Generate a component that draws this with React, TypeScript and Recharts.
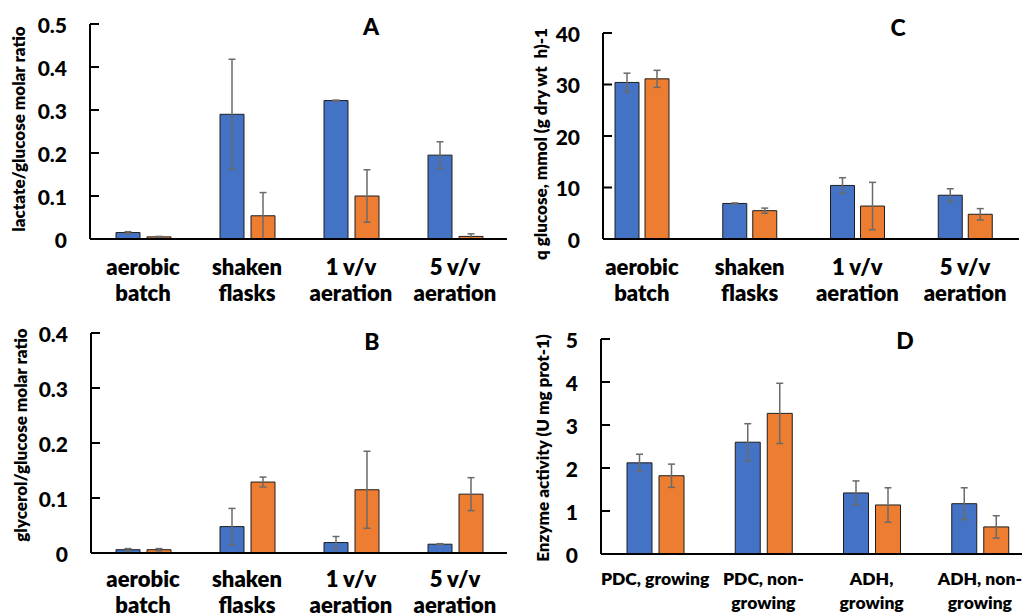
import React from 'react';
import { BarChart, Bar, XAxis, YAxis, ErrorBar, Label } from 'recharts';

const FONT = 'Lato, Carlito, Calibri, "Open Sans", sans-serif';
const BLUE = '#4472C4';
const ORANGE = '#ED7D31';

// category labels ("\n" = line break)
const conditionLabels = ['aerobic\nbatch', 'shaken\nflasks', '1 v/v\naeration', '5 v/v\naeration'];
const enzymeLabels = ['PDC, growing', 'PDC, non-\ngrowing', 'ADH,\ngrowing', 'ADH, non-\ngrowing'];

// A: lactate/glucose
const lactateBlue = [0.015, 0.29, 0.322, 0.195];
const lactateBlueErr = [0.002, 0.128, 0.001, 0.031];
const lactateOrange = [0.005, 0.054, 0.1, 0.006];
const lactateOrangeErr = [0.001, 0.054, 0.061, 0.006];

// B: glycerol/glucose
const glycerolBlue = [0.006, 0.048, 0.019, 0.016];
const glycerolBlueErr = [0.002, 0.033, 0.011, 0.001];
const glycerolOrange = [0.006, 0.129, 0.115, 0.107];
const glycerolOrangeErr = [0.002, 0.009, 0.07, 0.03];

// C: q glucose
const qBlue = [30.4, 6.9, 10.4, 8.5];
const qBlueErr = [1.8, 0.1, 1.5, 1.25];
const qOrange = [31.1, 5.5, 6.4, 4.8];
const qOrangeErr = [1.65, 0.5, 4.6, 1.1];

// D: enzyme activity
const enzBlue = [2.12, 2.6, 1.42, 1.17];
const enzBlueErr = [0.2, 0.43, 0.28, 0.37];
const enzOrange = [1.82, 3.27, 1.14, 0.63];
const enzOrangeErr = [0.27, 0.7, 0.4, 0.26];

const ticksA = [0, 0.1, 0.2, 0.3, 0.4, 0.5];
const ticksB = [0, 0.1, 0.2, 0.3, 0.4];
const ticksC = [0, 10, 20, 30, 40];
const ticksD = [0, 1, 2, 3, 4, 5];

function rows(labels: string[], a: number[], aErr: number[], b: number[], bErr: number[]) {
  return labels.map((name, i) => ({ name, a: a[i], aErr: aErr[i], b: b[i], bErr: bErr[i] }));
}

function CatTick(props: any) {
  const { x, y, payload, fontSize, lineHeight, dy0 } = props;
  const lines = String(payload.value).split('\n');
  return (
    <text x={x} y={y} textAnchor="middle" fontFamily={FONT} fontWeight={800} fontSize={fontSize} fill="#000">
      {lines.map((l, i) => (
        <tspan key={i} x={x} dy={i === 0 ? dy0 : lineHeight}>{l}</tspan>
      ))}
    </text>
  );
}

function ValTick(props: any) {
  const { x, y, payload } = props;
  return (
    <text x={x} y={y} textAnchor="end" dominantBaseline="central" fontFamily={FONT} fontWeight={900} fontSize={21} fill="#000">
      {String(payload.value)}
    </text>
  );
}

function decor(title: string, tx: number, ty: number, titleSize: number, letter: string, lx: number, ly: number) {
  return () => (
    <g>
      <text
        x={tx}
        y={ty}
        transform={`rotate(-90 ${tx} ${ty})`}
        textAnchor="middle"
        dominantBaseline="central"
        fontFamily={FONT}
        fontWeight={800}
        fontSize={titleSize}
        fill="#000"
        style={{ whiteSpace: 'pre' }}
      >
        {title}
      </text>
      <text x={lx} y={ly} textAnchor="middle" dominantBaseline="central" fontFamily={FONT} fontWeight={900} fontSize={23} fill="#000">
        {letter}
      </text>
    </g>
  );
}

type PanelProps = {
  data: any[];
  width: number;
  height: number;
  margin: any;
  yWidth: number;
  xHeight: number;
  ticks: number[];
  padding: any;
  barSize: number;
  barGap: number;
  content: any;
  xFont: number;
  lineHeight: number;
  dy0: number;
};

function Panel(p: PanelProps) {
  const axisStyle = { stroke: '#000', strokeWidth: 2 };
  return (
    <BarChart width={p.width} height={p.height} data={p.data} margin={p.margin} barGap={p.barGap}>
      <XAxis
        dataKey="name"
        height={p.xHeight}
        interval={0}
        tickLine={false}
        tickSize={0}
        tickMargin={0}
        padding={p.padding}
        axisLine={axisStyle}
        tick={<CatTick fontSize={p.xFont} lineHeight={p.lineHeight} dy0={p.dy0} />}
      />
      <YAxis
        width={p.yWidth}
        domain={[p.ticks[0], p.ticks[p.ticks.length - 1]]}
        ticks={p.ticks}
        interval={0}
        tickSize={-9}
        tickMargin={32}
        axisLine={axisStyle}
        tickLine={axisStyle}
        tick={<ValTick />}
      >
        <Label content={p.content} />
      </YAxis>
      <Bar dataKey="a" fill={BLUE} stroke="#1e1e1e" strokeWidth={1} barSize={p.barSize} isAnimationActive={false}>
        <ErrorBar dataKey="aErr" width={3.5} stroke="#6a6a6a" strokeWidth={1.5} />
      </Bar>
      <Bar dataKey="b" fill={ORANGE} stroke="#1e1e1e" strokeWidth={1} barSize={p.barSize} isAnimationActive={false}>
        <ErrorBar dataKey="bErr" width={3.5} stroke="#6a6a6a" strokeWidth={1.5} />
      </Bar>
    </BarChart>
  );
}

export default function App() {
  const dataA = rows(conditionLabels, lactateBlue, lactateBlueErr, lactateOrange, lactateOrangeErr);
  const dataB = rows(conditionLabels, glycerolBlue, glycerolBlueErr, glycerolOrange, glycerolOrangeErr);
  const dataC = rows(conditionLabels, qBlue, qBlueErr, qOrange, qOrangeErr);
  const dataD = rows(enzymeLabels, enzBlue, enzBlueErr, enzOrange, enzOrangeErr);

  return (
    <div style={{ position: 'fixed', left: 0, top: 0, width: 1022, height: 615, background: '#fff', overflow: 'hidden', fontFamily: FONT }}>
      <div style={{ position: 'absolute', left: 0, top: 0 }}>
        <Panel
          data={dataA}
          width={510}
          height={310}
          margin={{ top: 24, right: 3, bottom: 0, left: 0 }}
          yWidth={90}
          xHeight={71}
          ticks={ticksA}
          padding={{ left: 1, right: 0 }}
          barSize={24}
          barGap={7}
          content={decor('lactate/glucose molar ratio', 18, 129, 17, 'A', 371, 26)}
          xFont={22}
          lineHeight={26}
          dy0={36}
        />
      </div>
      <div style={{ position: 'absolute', left: 0, top: 310 }}>
        <Panel
          data={dataB}
          width={510}
          height={305}
          margin={{ top: 23, right: 3, bottom: 0, left: 0 }}
          yWidth={91}
          xHeight={62}
          ticks={ticksB}
          padding={{ left: 0, right: 0 }}
          barSize={24}
          barGap={7}
          content={decor('glycerol/glucose molar ratio', 20, 125, 17, 'B', 372, 31)}
          xFont={22}
          lineHeight={26}
          dy0={34}
        />
      </div>
      <div style={{ position: 'absolute', left: 510, top: 0 }}>
        <Panel
          data={dataC}
          width={512}
          height={310}
          margin={{ top: 33, right: 3, bottom: 0, left: 0 }}
          yWidth={93}
          xHeight={71}
          ticks={ticksC}
          padding={{ left: -15, right: 0 }}
          barSize={24}
          barGap={6}
          content={decor('q glucose, mmol (g dry wt  h)-1', 30, 144, 17, 'C', 388, 27)}
          xFont={22}
          lineHeight={26}
          dy0={36}
        />
      </div>
      <div style={{ position: 'absolute', left: 510, top: 310 }}>
        <Panel
          data={dataD}
          width={512}
          height={305}
          margin={{ top: 29, right: 0, bottom: 0, left: 0 }}
          yWidth={91}
          xHeight={61}
          ticks={ticksD}
          padding={{ left: 0, right: -12 }}
          barSize={25}
          barGap={7}
          content={decor('Enzyme activity (U mg prot-1)', 32, 138, 17, 'D', 395, 30)}
          xFont={17.5}
          lineHeight={24}
          dy0={31}
        />
      </div>
    </div>
  );
}
